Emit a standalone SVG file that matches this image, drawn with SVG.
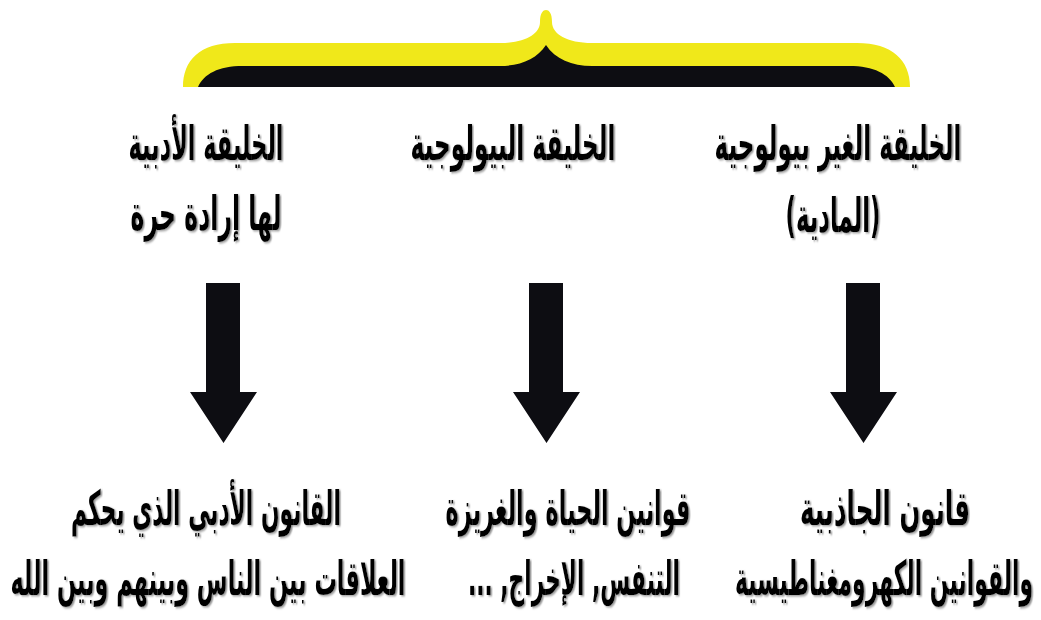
<svg xmlns="http://www.w3.org/2000/svg" width="1041" height="620" viewBox="0 0 1041 620">
<style>
.t{font-family:"DejaVu Sans Condensed","DejaVu Sans",sans-serif;font-stretch:condensed;font-weight:bold;font-size:30px;fill:#000;text-anchor:middle;filter:url(#sh)}
.arrow{fill:#0d0d12}
</style>
<defs>
<filter id="sh" x="-5%" y="-20%" width="110%" height="150%">
<feDropShadow dx="1.5" dy="0.8" stdDeviation="0.5" flood-color="#9a9a9a" flood-opacity="1"/>
</filter>
</defs>
<rect width="1041" height="620" fill="#fff"/>
<g id="brace">
<path d="M183,87 C183,60 200,43 235,43 L500,43 C525,43 540,34 540,22 C540,13 543,10 546,10 C549,10 552,13 552,22 C552,34 567,43 592,43 L857,43 C892,43 910,60 910,87 Z" fill="#f0e81a"/>
<path d="M198,87 C204,74 218,66 243,66 L500,66 C520,66 537,59 546,45 C555,59 572,66 592,66 L849,66 C874,66 889,74 895,87 Z" fill="#0d0d12"/>
</g>
<g id="connectors">
<path class="arrow" d="M206,283 H240 V392 H257 L223.5,443 L190,392 H206 Z"/>
<path class="arrow" d="M529,283 H563 V392 H580 L546.5,443 L513,392 H529 Z"/>
<path class="arrow" d="M846,283 H880 V392 H897 L863.5,443 L830,392 H846 Z"/>
</g>
<g id="node-literary">
<text class="t" transform="translate(206,160) scale(1,1.6)" textLength="155" lengthAdjust="spacingAndGlyphs" direction="rtl">الخليقة الأدبية</text>
<text class="t" transform="translate(206,230) scale(1,1.6)" textLength="151" lengthAdjust="spacingAndGlyphs" direction="rtl">لها إرادة حرة</text>
</g>
<g id="node-biological">
<text class="t" transform="translate(513,160) scale(1,1.6)" textLength="205" lengthAdjust="spacingAndGlyphs" direction="rtl">الخليقة البيولوجية</text>
</g>
<g id="node-nonbiological">
<text class="t" transform="translate(838,160) scale(1,1.6)" textLength="247" lengthAdjust="spacingAndGlyphs" direction="rtl">الخليقة الغير بيولوجية</text>
<text class="t" transform="translate(833,232) scale(1,1.6)" textLength="95" lengthAdjust="spacingAndGlyphs" direction="rtl">(المادية)</text>
</g>
<g id="node-moral-law">
<text class="t" transform="translate(206,525) scale(1,1.6)" textLength="270" lengthAdjust="spacingAndGlyphs" direction="rtl">القانون الأدبي الذي يحكم</text>
<text class="t" transform="translate(208,595) scale(1,1.6)" textLength="395" lengthAdjust="spacingAndGlyphs" direction="rtl">العلاقات بين الناس وبينهم وبين الله</text>
</g>
<g id="node-life-laws">
<text class="t" transform="translate(568,525) scale(1,1.6)" textLength="245" lengthAdjust="spacingAndGlyphs" direction="rtl">قوانين الحياة والغريزة</text>
<text class="t" transform="translate(574,595) scale(1,1.6)" textLength="212" lengthAdjust="spacingAndGlyphs" direction="rtl">التنفس, الإخراج, ...</text>
</g>
<g id="node-physical-laws">
<text class="t" transform="translate(885,525) scale(1,1.6)" textLength="170" lengthAdjust="spacingAndGlyphs" direction="rtl">قانون الجاذبية</text>
<text class="t" style="font-size:26px" transform="translate(884,595) scale(1,1.846)" textLength="298" lengthAdjust="spacingAndGlyphs" direction="rtl">والقوانين الكهرومغناطيسية</text>
</g>
</svg>
